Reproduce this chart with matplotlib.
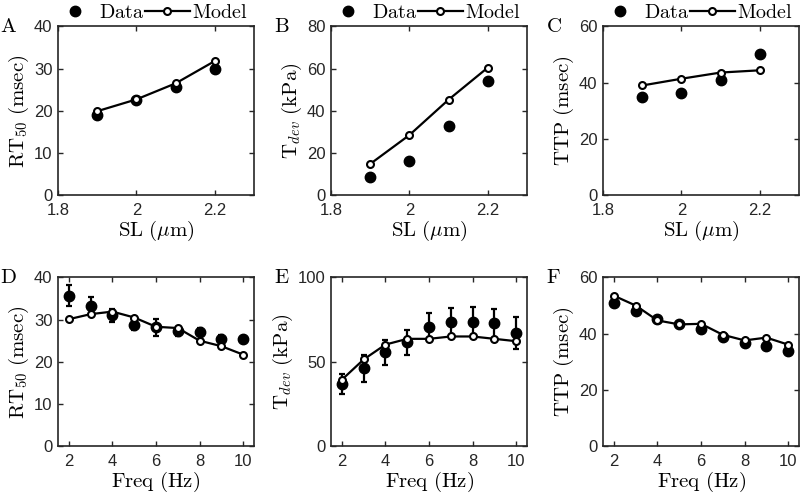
import matplotlib
matplotlib.use("Agg")
import matplotlib.pyplot as plt
from matplotlib.lines import Line2D
import numpy as np

plt.rcParams["mathtext.fontset"] = "cm"
plt.rcParams["font.family"] = ["Liberation Sans", "DejaVu Sans"]

# sarcomere length panels (A-C)
sl = [1.9, 2.0, 2.1, 2.2]
rt50_sl_data = [19.0, 22.5, 25.6, 29.8]
rt50_sl_model = [19.9, 22.7, 26.5, 31.8]
tdev_sl_data = [8.5, 16.3, 33.0, 54.0]
tdev_sl_model = [14.8, 28.5, 45.3, 60.5]
ttp_sl_data = [34.8, 36.3, 41.0, 50.2]
ttp_sl_model = [39.0, 41.4, 43.6, 44.4]

# frequency panels (D-F)
freq = [2, 3, 4, 5, 6, 7, 8, 9, 10]
rt50_f_data = [35.7, 33.2, 31.0, 28.8, 28.2, 27.2, 27.1, 25.5, 25.3]
rt50_f_err = [2.5, 2.1, 1.6, 1.2, 2.0, 1.0, 0.8, 0.8, 0.6]
rt50_f_model = [30.1, 31.3, 31.9, 30.5, 28.3, 28.0, 25.0, 23.7, 21.7]
tdev_f_data = [37.0, 46.3, 55.7, 61.6, 70.9, 73.4, 73.8, 72.8, 67.0]
tdev_f_err = [6.0, 8.0, 7.5, 7.5, 8.0, 8.5, 8.5, 8.5, 9.5]
tdev_f_model = [39.4, 51.4, 60.2, 63.6, 63.6, 65.0, 65.0, 63.6, 62.2]
ttp_f_data = [50.8, 48.0, 45.2, 43.3, 41.6, 38.8, 36.8, 35.6, 34.0]
ttp_f_err = [0.8, 0.8, 0.6, 0.5, 0.6, 0.6, 0.5, 0.6, 0.6]
ttp_f_model = [53.5, 50.0, 44.7, 43.3, 43.5, 39.6, 37.6, 38.6, 36.1]

panels = [
    ("A", sl, rt50_sl_data, None, rt50_sl_model, r"$\mathrm{RT}_{50}\ \mathrm{(msec)}$", [0, 10, 20, 30, 40]),
    ("B", sl, tdev_sl_data, None, tdev_sl_model, r"$\mathrm{T}_{dev}\ \mathrm{(kPa)}$", [0, 20, 40, 60, 80]),
    ("C", sl, ttp_sl_data, None, ttp_sl_model, r"$\mathrm{TTP\ (msec)}$", [0, 20, 40, 60]),
    ("D", freq, rt50_f_data, rt50_f_err, rt50_f_model, r"$\mathrm{RT}_{50}\ \mathrm{(msec)}$", [0, 10, 20, 30, 40]),
    ("E", freq, tdev_f_data, tdev_f_err, tdev_f_model, r"$\mathrm{T}_{dev}\ \mathrm{(kPa)}$", [0, 50, 100]),
    ("F", freq, ttp_f_data, ttp_f_err, ttp_f_model, r"$\mathrm{TTP\ (msec)}$", [0, 20, 40, 60]),
]

fig = plt.figure(figsize=(8.0, 4.99), dpi=100)
lefts = [0.0725, 0.4138, 0.7538]
bottoms = [0.609, 0.106]
w, h = 0.245, 0.338
gray = "#262626"

for i, (letter, xs, yd, err, ym, ylab, yt) in enumerate(panels):
    row, col = divmod(i, 3)
    ax = fig.add_axes([lefts[col], bottoms[row], w, h])
    if err is None:
        ax.plot(xs, yd, "o", color="k", ms=7.5, zorder=2)
    else:
        ax.errorbar(xs, yd, yerr=err, fmt="o", color="k", ms=7.5,
                    elinewidth=1.6, capsize=2.2, capthick=1.6, zorder=2)
    ax.plot(xs, ym, "-o", color="k", lw=1.6, ms=5, mfc="white",
            mec="k", mew=1.5, zorder=3)

    ax.set_ylim(yt[0], yt[-1])
    ax.set_yticks(yt)
    if row == 0:
        ax.set_xlim(1.8, 2.3)
        ax.set_xticks([1.8, 2.0, 2.2])
        ax.set_xticklabels(["1.8", "2", "2.2"])
        ax.set_xlabel(r"$\mathrm{SL}\ (\mu\mathrm{m})$", fontsize=15, labelpad=0)
        handles = [
            Line2D([], [], ls="none", marker="o", color="k", ms=7.5),
            Line2D([], [], ls="-", marker="o", color="k", lw=1.6, ms=5,
                   mfc="white", mew=1.5),
        ]
        ax.legend(handles, [r"$\mathrm{Data}$", r"$\mathrm{Model}$"], ncol=2,
                  loc="lower center", bbox_to_anchor=(0.47, 1.025), frameon=False,
                  fontsize=14.5, handlelength=2.2, handletextpad=0.1,
                  columnspacing=0.05, borderpad=0.0, borderaxespad=0.0)
    else:
        ax.set_xlim(1.5, 10.5)
        ax.set_xticks([2, 4, 6, 8, 10])
        ax.set_xlabel(r"$\mathrm{Freq\ (Hz)}$", fontsize=15, labelpad=0)
    ax.set_ylabel(ylab, fontsize=15, labelpad=2)

    ax.tick_params(direction="in", top=True, right=True, length=3.5,
                   width=1.0, labelsize=12, colors=gray)
    ax.tick_params(axis="x", pad=6)
    ax.tick_params(axis="y", pad=4)
    for sp in ax.spines.values():
        sp.set_linewidth(1.2)
        sp.set_color(gray)

    fig.text(lefts[col] - 0.062, bottoms[row] + h, r"$\mathrm{%s}$" % letter,
             fontsize=15, ha="center", va="center")

fig.savefig("out.png", dpi=100)
